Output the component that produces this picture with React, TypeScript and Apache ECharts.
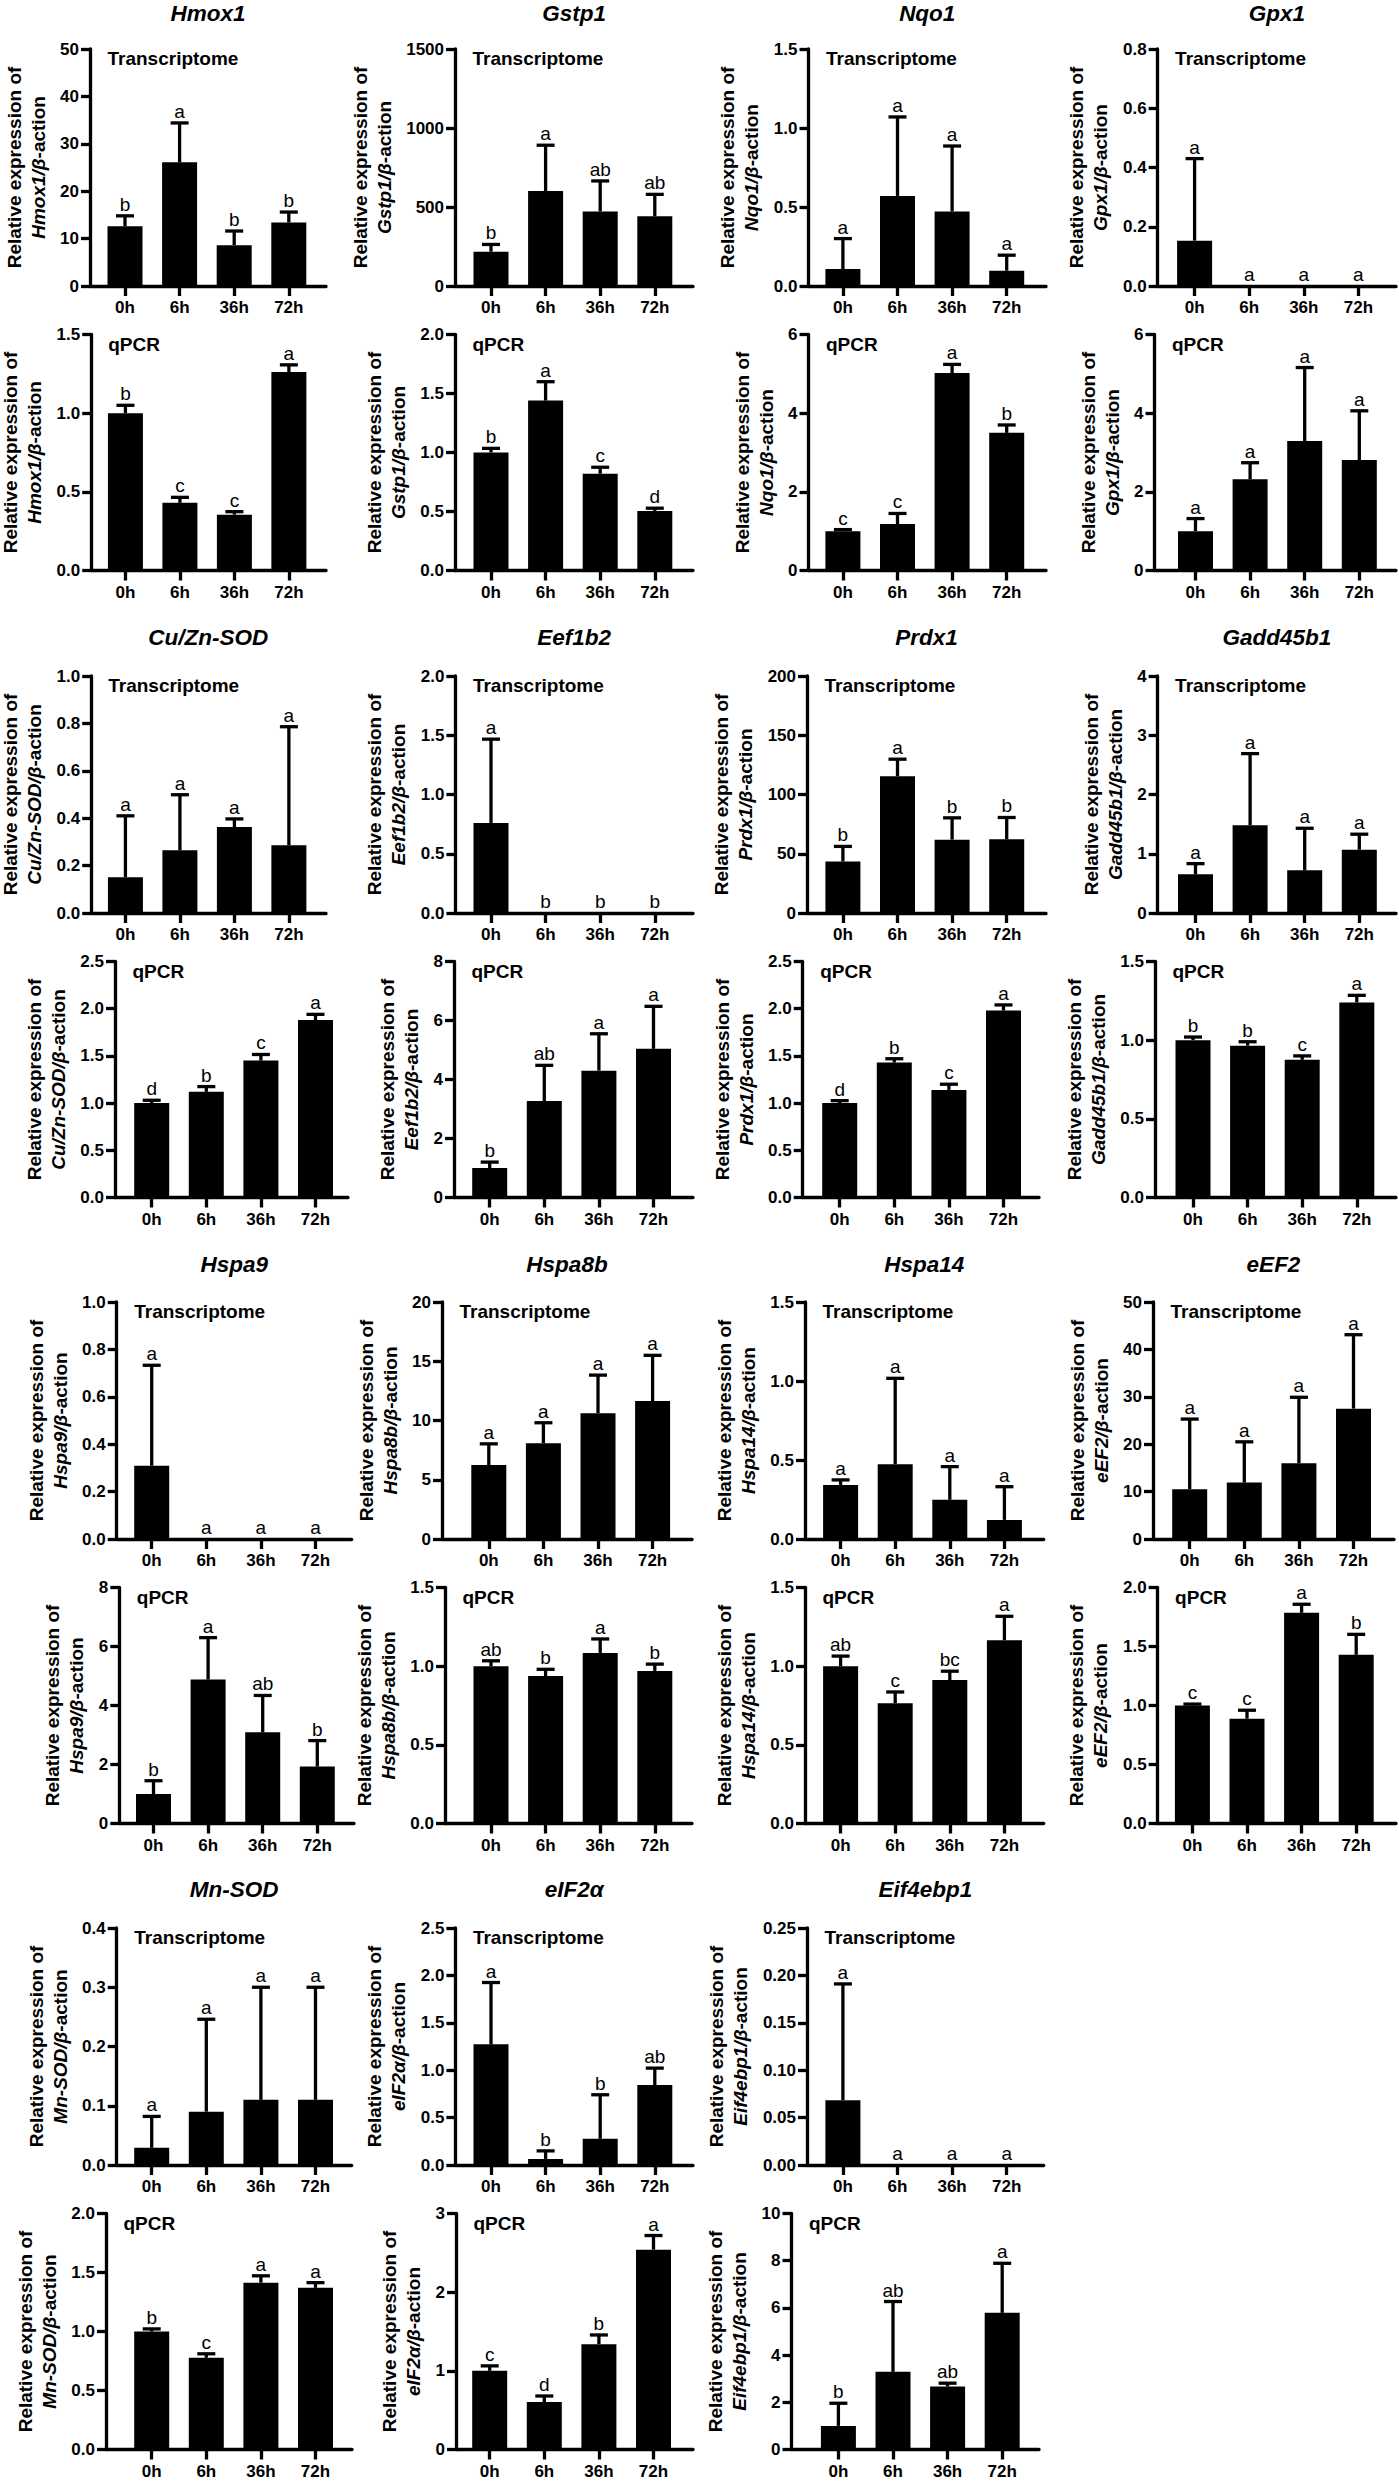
import React, { useEffect, useRef } from "react";
import * as echarts from "echarts";

const FONT = '"Liberation Sans", Arial, Helvetica, sans-serif';
const TIMES = ["0h", "6h", "36h", "72h"];
const GENES = ["Hmox1", "Gstp1", "Nqo1", "Gpx1", "Cu/Zn-SOD", "Eef1b2", "Prdx1", "Gadd45b1", "Hspa9", "Hspa8b", "Hspa14", "eEF2", "Mn-SOD", "eIF2α", "Eif4ebp1"];

// ---- Data: mean, SD, significance letters, y axis [max, step, decimals] ----
const HMOX1_T_MEAN = [12.6, 26.1, 8.6, 13.4];
const HMOX1_T_SD = [2.2, 8.3, 3.0, 2.2];
const HMOX1_T_SIG = ["b", "a", "b", "b"];
const HMOX1_T_AXIS = [50, 10, 0];
const HMOX1_Q_MEAN = [1.0, 0.43, 0.355, 1.262];
const HMOX1_Q_SD = [0.05, 0.035, 0.019, 0.045];
const HMOX1_Q_SIG = ["b", "c", "c", "a"];
const HMOX1_Q_AXIS = [1.5, 0.5, 1];

const GSTP1_T_MEAN = [217, 601, 472, 441];
const GSTP1_T_SD = [46, 290, 193, 139];
const GSTP1_T_SIG = ["b", "a", "ab", "ab"];
const GSTP1_T_AXIS = [1500, 500, 0];
const GSTP1_Q_MEAN = [1.0, 1.44, 0.82, 0.505];
const GSTP1_Q_SD = [0.035, 0.16, 0.055, 0.023];
const GSTP1_Q_SIG = ["b", "a", "c", "d"];
const GSTP1_Q_AXIS = [2.0, 0.5, 1];

const NQO1_T_MEAN = [0.107, 0.57, 0.472, 0.097];
const NQO1_T_SD = [0.193, 0.5, 0.414, 0.098];
const NQO1_T_SIG = ["a", "a", "a", "a"];
const NQO1_T_AXIS = [1.5, 0.5, 1];
const NQO1_Q_MEAN = [1.0, 1.18, 5.02, 3.5];
const NQO1_Q_SD = [0.04, 0.27, 0.22, 0.2];
const NQO1_Q_SIG = ["c", "c", "a", "b"];
const NQO1_Q_AXIS = [6, 2, 0];

const GPX1_T_MEAN = [0.153, 0, 0, 0];
const GPX1_T_SD = [0.277, 0, 0, 0];
const GPX1_T_SIG = ["a", "a", "a", "a"];
const GPX1_T_AXIS = [0.8, 0.2, 1];
const GPX1_Q_MEAN = [1.0, 2.32, 3.29, 2.81];
const GPX1_Q_SD = [0.32, 0.42, 1.87, 1.25];
const GPX1_Q_SIG = ["a", "a", "a", "a"];
const GPX1_Q_AXIS = [6, 2, 0];

const CUZN_T_MEAN = [0.151, 0.265, 0.363, 0.286];
const CUZN_T_SD = [0.259, 0.234, 0.034, 0.5];
const CUZN_T_SIG = ["a", "a", "a", "a"];
const CUZN_T_AXIS = [1.0, 0.2, 1];
const CUZN_Q_MEAN = [1.0, 1.12, 1.45, 1.88];
const CUZN_Q_SD = [0.03, 0.055, 0.065, 0.06];
const CUZN_Q_SIG = ["d", "b", "c", "a"];
const CUZN_Q_AXIS = [2.5, 0.5, 1];

const EEF1B2_T_MEAN = [0.76, 0, 0, 0];
const EEF1B2_T_SD = [0.707, 0, 0, 0];
const EEF1B2_T_SIG = ["a", "b", "b", "b"];
const EEF1B2_T_AXIS = [2.0, 0.5, 1];
const EEF1B2_Q_MEAN = [1.0, 3.27, 4.3, 5.04];
const EEF1B2_Q_SD = [0.2, 1.21, 1.25, 1.44];
const EEF1B2_Q_SIG = ["b", "ab", "a", "a"];
const EEF1B2_Q_AXIS = [8, 2, 0];

const PRDX1_T_MEAN = [43.5, 115.4, 61.9, 62.2];
const PRDX1_T_SD = [12.7, 14.4, 18.4, 18.4];
const PRDX1_T_SIG = ["b", "a", "b", "b"];
const PRDX1_T_AXIS = [200, 50, 0];
const PRDX1_Q_MEAN = [1.0, 1.43, 1.14, 1.98];
const PRDX1_Q_SD = [0.026, 0.04, 0.06, 0.06];
const PRDX1_Q_SIG = ["d", "b", "c", "a"];
const PRDX1_Q_AXIS = [2.5, 0.5, 1];

const GADD_T_MEAN = [0.653, 1.48, 0.72, 1.067];
const GADD_T_SD = [0.18, 1.21, 0.71, 0.263];
const GADD_T_SIG = ["a", "a", "a", "a"];
const GADD_T_AXIS = [4, 1, 0];
const GADD_Q_MEAN = [1.0, 0.965, 0.875, 1.24];
const GADD_Q_SD = [0.02, 0.025, 0.025, 0.045];
const GADD_Q_SIG = ["b", "b", "c", "a"];
const GADD_Q_AXIS = [1.5, 0.5, 1];

const HSPA9_T_MEAN = [0.309, 0, 0, 0];
const HSPA9_T_SD = [0.424, 0, 0, 0];
const HSPA9_T_SIG = ["a", "a", "a", "a"];
const HSPA9_T_AXIS = [1.0, 0.2, 1];
const HSPA9_Q_MEAN = [1.0, 4.88, 3.09, 1.93];
const HSPA9_Q_SD = [0.45, 1.42, 1.25, 0.88];
const HSPA9_Q_SIG = ["b", "a", "ab", "b"];
const HSPA9_Q_AXIS = [8, 2, 0];

const HSPA8B_T_MEAN = [6.24, 8.09, 10.62, 11.64];
const HSPA8B_T_SD = [1.79, 1.72, 3.21, 3.86];
const HSPA8B_T_SIG = ["a", "a", "a", "a"];
const HSPA8B_T_AXIS = [20, 5, 0];
const HSPA8B_Q_MEAN = [1.0, 0.937, 1.084, 0.97];
const HSPA8B_Q_SD = [0.034, 0.043, 0.089, 0.043];
const HSPA8B_Q_SIG = ["ab", "b", "a", "b"];
const HSPA8B_Q_AXIS = [1.5, 0.5, 1];

const HSPA14_T_MEAN = [0.342, 0.473, 0.248, 0.121];
const HSPA14_T_SD = [0.032, 0.544, 0.21, 0.21];
const HSPA14_T_SIG = ["a", "a", "a", "a"];
const HSPA14_T_AXIS = [1.5, 0.5, 1];
const HSPA14_Q_MEAN = [1.0, 0.765, 0.912, 1.165];
const HSPA14_Q_SD = [0.064, 0.071, 0.056, 0.152];
const HSPA14_Q_SIG = ["ab", "c", "bc", "a"];
const HSPA14_Q_AXIS = [1.5, 0.5, 1];

const EEF2_T_MEAN = [10.5, 11.9, 16.0, 27.5];
const EEF2_T_SD = [14.8, 8.6, 13.9, 15.6];
const EEF2_T_SIG = ["a", "a", "a", "a"];
const EEF2_T_AXIS = [50, 10, 0];
const EEF2_Q_MEAN = [1.0, 0.888, 1.786, 1.43];
const EEF2_Q_SD = [0.012, 0.072, 0.072, 0.173];
const EEF2_Q_SIG = ["c", "c", "a", "b"];
const EEF2_Q_AXIS = [2.0, 0.5, 1];

const MNSOD_T_MEAN = [0.029, 0.09, 0.11, 0.11];
const MNSOD_T_SD = [0.053, 0.156, 0.19, 0.19];
const MNSOD_T_SIG = ["a", "a", "a", "a"];
const MNSOD_T_AXIS = [0.4, 0.1, 1];
const MNSOD_Q_MEAN = [1.0, 0.777, 1.414, 1.37];
const MNSOD_Q_SD = [0.022, 0.034, 0.058, 0.044];
const MNSOD_Q_SIG = ["b", "c", "a", "a"];
const MNSOD_Q_AXIS = [2.0, 0.5, 1];

const EIF2A_T_MEAN = [1.273, 0.064, 0.277, 0.843];
const EIF2A_T_SD = [0.652, 0.085, 0.464, 0.179];
const EIF2A_T_SIG = ["a", "b", "b", "ab"];
const EIF2A_T_AXIS = [2.5, 0.5, 1];
const EIF2A_Q_MEAN = [1.0, 0.603, 1.339, 2.54];
const EIF2A_Q_SD = [0.063, 0.077, 0.117, 0.18];
const EIF2A_Q_SIG = ["c", "d", "b", "a"];
const EIF2A_Q_AXIS = [3, 1, 0];

const EIF4_T_MEAN = [0.0684, 0, 0, 0];
const EIF4_T_SD = [0.1226, 0, 0, 0];
const EIF4_T_SIG = ["a", "a", "a", "a"];
const EIF4_T_AXIS = [0.25, 0.05, 2];
const EIF4_Q_MEAN = [1.0, 3.29, 2.67, 5.79];
const EIF4_Q_SD = [0.96, 2.98, 0.14, 2.1];
const EIF4_Q_SIG = ["b", "ab", "ab", "a"];
const EIF4_Q_AXIS = [10, 2, 0];

const T_DATA = [
  [HMOX1_T_MEAN, HMOX1_T_SD, HMOX1_T_SIG, HMOX1_T_AXIS],
  [GSTP1_T_MEAN, GSTP1_T_SD, GSTP1_T_SIG, GSTP1_T_AXIS],
  [NQO1_T_MEAN, NQO1_T_SD, NQO1_T_SIG, NQO1_T_AXIS],
  [GPX1_T_MEAN, GPX1_T_SD, GPX1_T_SIG, GPX1_T_AXIS],
  [CUZN_T_MEAN, CUZN_T_SD, CUZN_T_SIG, CUZN_T_AXIS],
  [EEF1B2_T_MEAN, EEF1B2_T_SD, EEF1B2_T_SIG, EEF1B2_T_AXIS],
  [PRDX1_T_MEAN, PRDX1_T_SD, PRDX1_T_SIG, PRDX1_T_AXIS],
  [GADD_T_MEAN, GADD_T_SD, GADD_T_SIG, GADD_T_AXIS],
  [HSPA9_T_MEAN, HSPA9_T_SD, HSPA9_T_SIG, HSPA9_T_AXIS],
  [HSPA8B_T_MEAN, HSPA8B_T_SD, HSPA8B_T_SIG, HSPA8B_T_AXIS],
  [HSPA14_T_MEAN, HSPA14_T_SD, HSPA14_T_SIG, HSPA14_T_AXIS],
  [EEF2_T_MEAN, EEF2_T_SD, EEF2_T_SIG, EEF2_T_AXIS],
  [MNSOD_T_MEAN, MNSOD_T_SD, MNSOD_T_SIG, MNSOD_T_AXIS],
  [EIF2A_T_MEAN, EIF2A_T_SD, EIF2A_T_SIG, EIF2A_T_AXIS],
  [EIF4_T_MEAN, EIF4_T_SD, EIF4_T_SIG, EIF4_T_AXIS],
];
const Q_DATA = [
  [HMOX1_Q_MEAN, HMOX1_Q_SD, HMOX1_Q_SIG, HMOX1_Q_AXIS],
  [GSTP1_Q_MEAN, GSTP1_Q_SD, GSTP1_Q_SIG, GSTP1_Q_AXIS],
  [NQO1_Q_MEAN, NQO1_Q_SD, NQO1_Q_SIG, NQO1_Q_AXIS],
  [GPX1_Q_MEAN, GPX1_Q_SD, GPX1_Q_SIG, GPX1_Q_AXIS],
  [CUZN_Q_MEAN, CUZN_Q_SD, CUZN_Q_SIG, CUZN_Q_AXIS],
  [EEF1B2_Q_MEAN, EEF1B2_Q_SD, EEF1B2_Q_SIG, EEF1B2_Q_AXIS],
  [PRDX1_Q_MEAN, PRDX1_Q_SD, PRDX1_Q_SIG, PRDX1_Q_AXIS],
  [GADD_Q_MEAN, GADD_Q_SD, GADD_Q_SIG, GADD_Q_AXIS],
  [HSPA9_Q_MEAN, HSPA9_Q_SD, HSPA9_Q_SIG, HSPA9_Q_AXIS],
  [HSPA8B_Q_MEAN, HSPA8B_Q_SD, HSPA8B_Q_SIG, HSPA8B_Q_AXIS],
  [HSPA14_Q_MEAN, HSPA14_Q_SD, HSPA14_Q_SIG, HSPA14_Q_AXIS],
  [EEF2_Q_MEAN, EEF2_Q_SD, EEF2_Q_SIG, EEF2_Q_AXIS],
  [MNSOD_Q_MEAN, MNSOD_Q_SD, MNSOD_Q_SIG, MNSOD_Q_AXIS],
  [EIF2A_Q_MEAN, EIF2A_Q_SD, EIF2A_Q_SIG, EIF2A_Q_AXIS],
  [EIF4_Q_MEAN, EIF4_Q_SD, EIF4_Q_SIG, EIF4_Q_AXIS],
];

// ---- Layout (pixels): row, T [axis x, first tick x, end x], Q [axis x, first tick x, end x] ----
const LAYOUT = [
  [0, 90, 125, 326, 90.7, 125, 326],
  [0, 455, 491, 693, 455, 491, 693],
  [0, 808.5, 842.9, 1046, 808.5, 842.9, 1046],
  [0, 1157.6, 1194.6, 1396, 1154.5, 1195.5, 1396],
  [1, 90.7, 125, 326, 115, 151.7, 348],
  [1, 455.4, 491, 693, 454, 489.7, 693],
  [1, 807, 842.9, 1046, 802.7, 839.7, 1039],
  [1, 1157.6, 1195.5, 1396, 1155, 1193, 1396],
  [2, 116.7, 151.7, 351.7, 119.3, 153.5, 354],
  [2, 442, 488.8, 692, 445, 491, 692],
  [2, 805, 840.6, 1043.7, 805, 840.6, 1043.7],
  [2, 1153, 1189.7, 1394, 1157.6, 1192.4, 1396],
  [3, 116.7, 151.7, 351.7, 106, 151.7, 352],
  [3, 455.4, 491, 693, 456, 489.7, 693],
  [3, 807, 842.9, 1043.7, 791.5, 838.4, 1039],
];
const ROW_T_TOP = [49, 676, 1302, 1928];
const TITLE_Y = [13, 637, 1264, 1889];
const Q_SHIFT = 285.5;
const T_H = 237;
const Q_H = 236;
const SPACING = 54.6;
const BAR_W = 35;
const CAP_W = 18;
const LINE_W = 3.3;

function labelWidth(s: string) {
  let w = 0;
  for (const c of s) w += c === "." ? 4.7 : 9.5;
  return w;
}

function buildOption() {
  const grid: any[] = [];
  const xAxis: any[] = [];
  const yAxis: any[] = [];
  const series: any[] = [];
  const elements: any[] = [];

  const addPanel = (gene: string, kind: string, d: any[], ax: number, t0: number, end: number, top: number, h: number) => {
    const [mean, sd, sig, axis] = d as [number[], number[], string[], number[]];
    const [max, step, dec] = axis;
    const i = grid.length;
    grid.push({ left: ax, top, width: end - ax, height: h, containLabel: false });
    xAxis.push({
      type: "value",
      gridIndex: i,
      min: -(t0 - ax) / SPACING,
      max: 3 + (end - t0 - 3 * SPACING) / SPACING,
      splitLine: { show: false },
      axisLine: { show: true, onZero: false, lineStyle: { color: "#000", width: LINE_W } },
      axisTick: { show: true, customValues: [0, 1, 2, 3], length: 10, lineStyle: { color: "#000", width: LINE_W } },
      axisLabel: {
        show: true,
        customValues: [0, 1, 2, 3],
        formatter: (v: number) => TIMES[Math.round(v)] ?? "",
        margin: 13,
        color: "#000",
        fontSize: 17,
        fontWeight: "bold",
        fontFamily: FONT,
      },
    });
    let maxW = 0;
    for (let v = 0; v <= max + 1e-9; v += step) maxW = Math.max(maxW, labelWidth(v.toFixed(dec)));
    yAxis.push({
      type: "value",
      gridIndex: i,
      min: 0,
      max,
      interval: step,
      splitLine: { show: false },
      axisLine: { show: true, onZero: false, lineStyle: { color: "#000", width: LINE_W } },
      axisTick: { show: true, length: 9, lineStyle: { color: "#000", width: LINE_W } },
      axisLabel: {
        formatter: (v: number) => v.toFixed(dec),
        margin: 11,
        color: "#000",
        fontSize: 17,
        fontWeight: "bold",
        fontFamily: FONT,
      },
      name: `{r|Relative expression of}\n{g|${gene}/β}{r|-action}`,
      nameLocation: "middle",
      nameRotate: 90,
      nameGap: maxW + 21,
      nameTextStyle: {
        rich: {
          r: { fontSize: 19, fontWeight: "bold", fontFamily: FONT, color: "#000", lineHeight: 24 },
          g: { fontSize: 19, fontWeight: "bold", fontStyle: "italic", fontFamily: FONT, color: "#000", lineHeight: 24 },
        },
      },
    });
    series.push({
      type: "bar",
      xAxisIndex: i,
      yAxisIndex: i,
      data: mean.map((m, k) => [k, m]),
      barWidth: BAR_W,
      itemStyle: { color: "#000" },
      silent: true,
      z: 2,
    });
    series.push({
      type: "custom",
      xAxisIndex: i,
      yAxisIndex: i,
      data: mean.map((m, k) => [k, m, m + sd[k]]),
      itemStyle: { color: "#000" },
      z: 5,
      silent: true,
      clip: false,
      renderItem: (params: any, api: any) => {
        const x = api.value(0);
        const m = api.value(1);
        const t = api.value(2);
        const pm = api.coord([x, m]);
        const pt = api.coord([x, t]);
        const children: any[] = [];
        if (t > m + 1e-12) {
          children.push({
            type: "line",
            shape: { x1: pt[0], y1: pm[1], x2: pt[0], y2: pt[1] },
            style: { stroke: "#000", lineWidth: LINE_W, fill: null },
          });
          children.push({
            type: "line",
            shape: { x1: pt[0] - CAP_W / 2, y1: pt[1], x2: pt[0] + CAP_W / 2, y2: pt[1] },
            style: { stroke: "#000", lineWidth: LINE_W, fill: null },
          });
        }
        children.push({
          type: "text",
          x: pt[0],
          y: pt[1] - 2,
          style: {
            text: sig[params.dataIndex],
            fill: "#000",
            stroke: null,
            fontSize: 19,
            fontFamily: FONT,
            align: "center",
            verticalAlign: "bottom",
          },
        });
        return { type: "group", children };
      },
    });
    elements.push({
      type: "text",
      x: ax + 17.5,
      y: top,
      style: {
        text: kind,
        fill: "#000",
        font: `bold 19px ${FONT}`,
        textAlign: "left",
        textVerticalAlign: "top",
      },
    });
  };

  GENES.forEach((gene, g) => {
    const [row, axT, t0T, endT, axQ, t0Q, endQ] = LAYOUT[g];
    const topT = ROW_T_TOP[row];
    addPanel(gene, "Transcriptome", T_DATA[g], axT, t0T, endT, topT, T_H);
    addPanel(gene, "qPCR", Q_DATA[g], axQ, t0Q, endQ, topT + Q_SHIFT, Q_H);
    elements.push({
      type: "text",
      x: (axT + endT) / 2,
      y: TITLE_Y[row],
      style: {
        text: gene,
        fill: "#000",
        font: `italic bold 22.5px ${FONT}`,
        textAlign: "center",
        textVerticalAlign: "middle",
      },
    });
  });

  return {
    animation: false,
    backgroundColor: "#fff",
    grid,
    xAxis,
    yAxis,
    series,
    graphic: { elements },
  };
}

export default function App() {
  const ref = useRef<HTMLDivElement | null>(null);
  useEffect(() => {
    if (!ref.current) return;
    const chart = echarts.init(ref.current, null, { renderer: "svg" });
    chart.setOption(buildOption() as any);
    return () => chart.dispose();
  }, []);
  return (
    <div
      ref={ref}
      style={{ position: "absolute", left: 0, top: 0, width: 1399, height: 2481, background: "#fff" }}
    />
  );
}
